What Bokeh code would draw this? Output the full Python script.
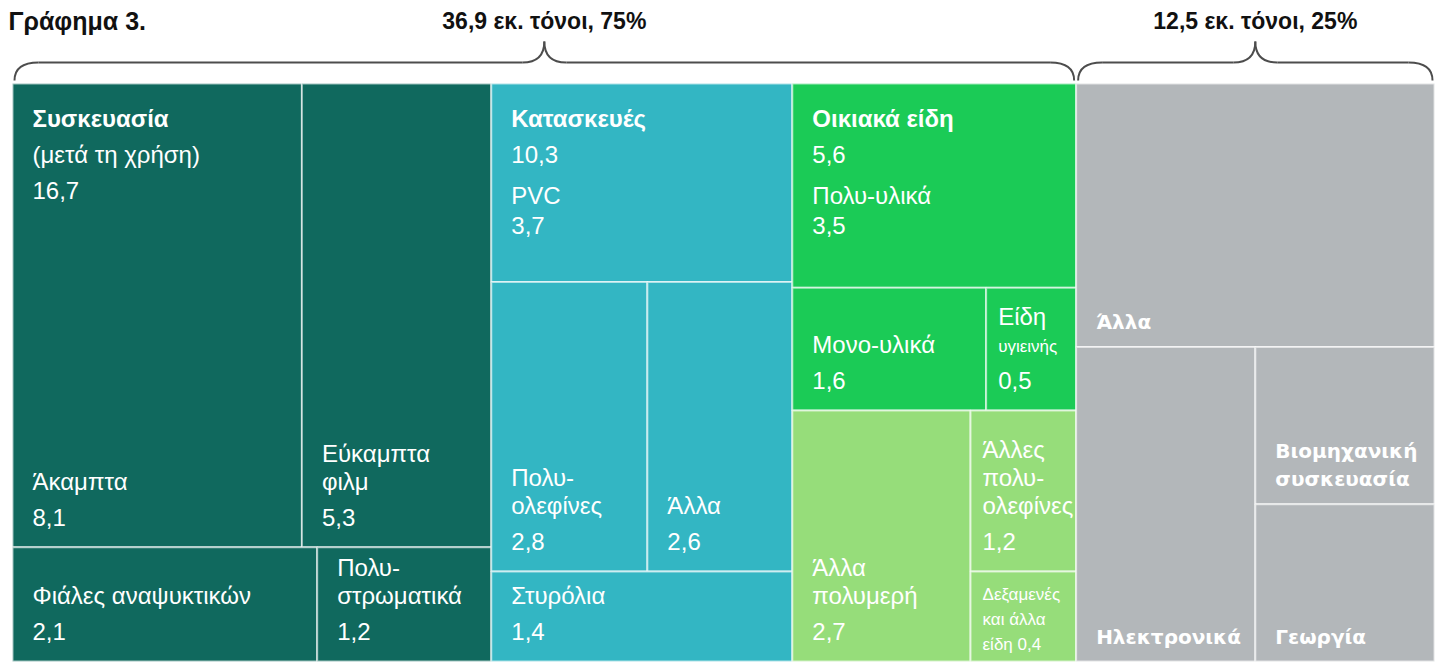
import numpy as np
from bokeh.plotting import figure
from bokeh.models import Range1d, ColumnDataSource
from bokeh.core.properties import value
from bokeh.embed import file_html
from bokeh.resources import INLINE

# ---------------- data (million tonnes) ----------------
chart_title = "Γράφημα 3."
group_totals = [36.9, 12.5]

sector_names = ["Συσκευασία", "Κατασκευές", "Οικιακά είδη"]
sector_notes = ["(μετά τη χρήση)", "", ""]
sector_totals = [16.7, 10.3, 5.6]

packaging_labels = ["Άκαμπτα", "Εύκαμπτα\nφιλμ", "Φιάλες αναψυκτικών", "Πολυ-\nστρωματικά"]
packaging_values = [8.1, 5.3, 2.1, 1.2]
construction_labels = ["PVC", "Πολυ-\nολεφίνες", "Άλλα", "Στυρόλια"]
construction_values = [3.7, 2.8, 2.6, 1.4]
household_labels = ["Πολυ-υλικά", "Μονο-υλικά", "Είδη\nυγιεινής"]
household_values = [3.5, 1.6, 0.5]
polymer_labels = ["Άλλα\nπολυμερή", "Άλλες\nπολυ-\nολεφίνες", "Δεξαμενές\nκαι άλλα\nείδη"]
polymer_values = [2.7, 1.2, 0.4]
other_labels = ["Άλλα", "Ηλεκτρονικά", "Βιομηχανική\nσυσκευασία", "Γεωργία"]
other_values = [5.7, 3.4, 1.7, 1.7]  # not printed in the chart

leaf_labels = packaging_labels + construction_labels + household_labels + polymer_labels + other_labels
leaf_values = packaging_values + construction_values + household_values + polymer_values + other_values
leaf_sector = [0] * 4 + [1] * 4 + [2] * 3 + [3] * 3 + [4] * 4
group_of_sector = [0, 0, 0, 0, 1]

# treemap structure: "h" = side by side, "v" = stacked (first on top); ints = leaf index
packaging_tree = ("v", [("h", [0, 1]), ("h", [2, 3])])
construction_tree = ("v", [4, ("h", [5, 6]), 7])
household_tree = ("v", [("v", [8, ("h", [9, 10])]), ("h", [11, ("v", [12, 13])])])
other_tree = ("v", [14, ("h", [15, ("v", [16, 17])])])
tree = ("h", [("h", [packaging_tree, construction_tree, household_tree]), other_tree])

# ---------------- style / geometry ----------------
sector_colors = ["#10695E", "#33B6C3", "#1BCB56", "#96DD7A", "#B3B7BA"]
values_printed = [True, True, True, True, False]
REG = "Liberation Sans"
GRAY_FONT = "DejaVu Sans"
FS = 24          # main label size (px)
FS_SMALL = 17
MIN_PX = 90      # minimum box extent so labels fit
BASE_SHIFT = 0.34  # baseline correction (fraction of font size)

W, H = 1442, 669
L0, T0, B0, R0 = 12, 83, 661, 1434   # treemap frame in canvas px
TOTAL = sum(leaf_values)
SX = (R0 - L0) / TOTAL
SY = (B0 - T0) / 1.0


def cy(c):
    """canvas y (px from top) -> data y"""
    return (B0 - c) / SY


def cx(c):
    """canvas x (px from left) -> data x"""
    return (c - L0) / SX


def weight(node):
    if isinstance(node, int):
        return leaf_values[node]
    return sum(weight(k) for k in node[1])


def fit(ws, length):
    ws = np.asarray(ws, float)
    fixed = np.zeros(len(ws), bool)
    while True:
        rem = length - MIN_PX * fixed.sum()
        s = np.where(fixed, MIN_PX, ws / ws[~fixed].sum() * rem)
        new = (~fixed) & (s < MIN_PX)
        if not new.any():
            return s
        fixed |= new


rects = {}


def place(node, x0, x1, y0, y1):
    if isinstance(node, int):
        rects[node] = (x0, x1, y0, y1)
        return
    d, kids = node
    ws = [weight(k) for k in kids]
    if d == "h":
        sizes = fit(ws, (x1 - x0) * SX) / SX
        e = x0 + np.concatenate([[0], np.cumsum(sizes)])
        for k, a, b in zip(kids, e[:-1], e[1:]):
            place(k, a, b, y0, y1)
    else:
        sizes = fit(ws, (y1 - y0) * SY) / SY
        e = y1 - np.concatenate([[0], np.cumsum(sizes)])
        for k, a, b in zip(kids, e[:-1], e[1:]):
            place(k, x0, x1, b, a)


place(tree, 0.0, TOTAL, 0.0, 1.0)


def fmt(v):
    return f"{v:.1f}".replace(".", ",")


p = figure(width=W, height=H, x_range=Range1d(cx(0), cx(W)),
           y_range=Range1d(cy(H), cy(0)), output_backend="svg", toolbar_location=None,
           min_border=0, x_axis_location=None, y_axis_location=None)
p.grid.visible = False
p.outline_line_color = None
p.background_fill_color = "white"
p.border_fill_color = "white"

idx = sorted(rects)
src = ColumnDataSource(dict(
    left=[rects[i][0] for i in idx], right=[rects[i][1] for i in idx],
    bottom=[rects[i][2] for i in idx], top=[rects[i][3] for i in idx],
    color=[sector_colors[leaf_sector[i]] for i in idx]))
p.quad(left="left", right="right", bottom="bottom", top="top", fill_color="color",
       line_color="white", line_alpha=0.6, line_width=2, source=src)

texts = []


def add(x, y, s, font=REG, size=FS, style="normal", color="white", align="left"):
    texts.append((x, y + BASE_SHIFT * size / SY, s, font, size, style, color, align))


first_leaf = {}
for i, s in enumerate(leaf_sector):
    first_leaf.setdefault(s, i)

for i in idx:
    x0, x1, y0, y1 = rects[i]
    sec = leaf_sector[i]
    w_px = (x1 - x0) * SX
    h_px = (y1 - y0) * SY
    pad = 20 if w_px > 130 else 12
    xt = x0 + pad / SX
    lines = leaf_labels[i].split("\n")
    n = len(lines)

    def fsize(t):
        return FS if pad + len(t) * 0.45 * FS < w_px else FS_SMALL

    if not values_printed[sec]:
        for k, t in enumerate(lines):
            add(xt, y0 + (18 + 28 * (n - 1 - k)) / SY, t, GRAY_FONT, 20, "bold")
        continue

    val = fmt(leaf_values[i])
    after_header = False
    if sec < len(sector_names) and first_leaf[sec] == i:
        off = 43
        add(xt, y1 - off / SY, sector_names[sec], style="bold")
        if sector_notes[sec]:
            off += 36
            add(xt, y1 - off / SY, sector_notes[sec])
        off += 36
        add(xt, y1 - off / SY, fmt(sector_totals[sec]))
        if h_px < 300:
            after_header = True
            off += 41
            for t in lines:
                add(xt, y1 - off / SY, t, size=fsize(t))
                off += 28
            off += 2
            add(xt, y1 - off / SY, val)
    if after_header:
        continue
    need = 22 + 36 + 28 * (n - 1) + 17 + 6
    if need > h_px:
        lines[-1] = lines[-1] + " " + val
        for k, t in enumerate(lines):
            add(xt, y0 + (11 + 25 * (n - 1 - k)) / SY, t, size=FS_SMALL)
    else:
        add(xt, y0 + 22 / SY, val)
        for k, t in enumerate(lines):
            add(xt, y0 + (22 + 36 + 28 * (n - 1 - k)) / SY, t, size=fsize(t))

# braces with group labels
grand = sum(group_totals)
for g, tot in enumerate(group_totals):
    members = [i for i in idx if group_of_sector[leaf_sector[i]] == g]
    xa = min(rects[i][0] for i in members) + 2 / SX
    xb = max(rects[i][1] for i in members) - 2 / SX
    xc = (xa + xb) / 2
    r, q = 24 / SX, 22 / SX
    yb, ym, yp = cy(80), cy(62), cy(41)
    p.quadratic(x0=[xa, xc - q, xc, xb - r], y0=[yb, ym, yp, ym],
                x1=[xa + r, xc, xc + q, xb], y1=[ym, yp, ym, yb],
                cx=[xa, xc, xc, xb], cy=[ym, ym, ym, ym],
                line_color="#4D4D4D", line_width=2)
    p.segment(x0=[xa + r, xc + q], y0=[ym, ym], x1=[xc - q, xb - r], y1=[ym, ym],
              line_color="#4D4D4D", line_width=2)
    label = f"{fmt(tot)} εκ. τόνοι, {round(100 * tot / grand)}%"
    add(xc, cy(28), label, REG, 23, "bold", "#111111", "center")

add(cx(8), cy(29), chart_title, REG, 25, "bold", "#111111", "left")

groups = {}
for t in texts:
    groups.setdefault(t[3:], []).append(t)
for (font, size, style, color, align), items in groups.items():
    p.text(x=[t[0] for t in items], y=[t[1] for t in items], text=[t[2] for t in items],
           text_font=value(font), text_font_size=f"{size}px", text_font_style=style,
           text_color=color, text_align=align, text_baseline="alphabetic")

open("out.html", "w").write(file_html(p, INLINE))
